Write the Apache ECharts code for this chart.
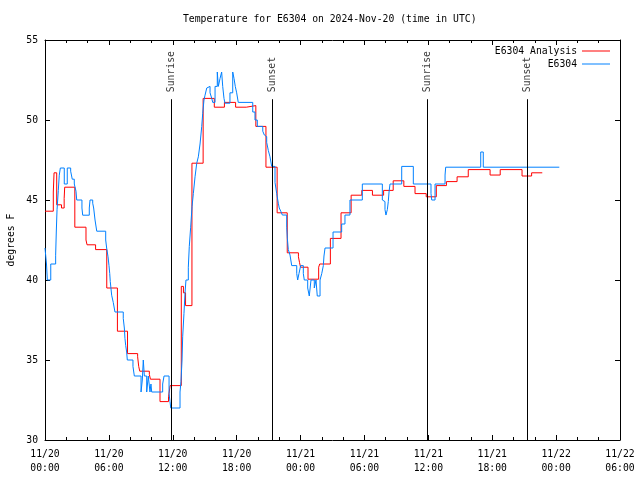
<!DOCTYPE html>
<html><head><meta charset="utf-8">
<script src="https://cdn.jsdelivr.net/npm/echarts@6/dist/echarts.min.js"></script>
<style>html,body{margin:0;padding:0;background:#fff}#c{width:640px;height:480px}</style>
</head><body><div id="c"></div>
<script>
const FONT = 'DejaVu Sans Mono';
const FS = 9.75;
const titleText = 'Temperature for E6304 on 2024-Nov-20 (time in UTC)';
const yAxisName = 'degrees F';
const xTickLabels = ['11/20\n00:00','11/20\n06:00','11/20\n12:00','11/20\n18:00','11/21\n00:00','11/21\n06:00','11/21\n12:00','11/21\n18:00','11/22\n00:00','11/22\n06:00'];
const seriesNames = ['E6304 Analysis', 'E6304'];

// hours since 11/20 00:00 UTC
const analysisTimes = [0,0.78,0.85,1.1,1.55,1.8,1.85,2.8,3.85,3.95,4.75,5.8,6.8,7.75,8.7,8.8,8.9,9.8,9.9,10.8,11.6,11.75,12.8,13.0,13.2,13.8,14.85,15.9,16.85,17.9,18.9,19.8,20.75,21.8,22.75,23.8,23.9,24.0,24.7,25.7,25.8,26.8,27.8,28.75,29.75,30.75,31.8,32.7,33.7,34.75,35.8,36.75,37.7,38.7,39.75,41.8,42.75,44.8,45.7,46.7];
const analysisTemps = [44.3,45.5,46.7,44.7,44.5,45.1,45.8,43.3,42.5,42.2,41.9,39.5,36.8,35.4,35.2,34.6,34.3,34.1,33.8,32.4,32.7,33.4,39.6,39.2,38.4,47.3,51.35,50.8,51.1,50.8,50.9,49.6,47.05,44.2,41.7,41.45,41.1,40.8,40.05,40.8,41.0,42.6,44.2,45.3,45.6,45.3,45.6,46.2,45.85,45.4,45.2,45.9,46.15,46.45,46.9,46.56,46.9,46.5,46.7,46.7];

const obsTimes = [0,0.14,0.22,0.54,1.00,1.06,1.13,1.25,1.34,1.44,1.81,2.09,2.41,2.56,2.75,2.91,2.98,3.47,3.54,4.16,4.23,4.48,4.57,4.70,4.86,5.70,5.79,5.92,6.01,6.08,6.13,6.26,6.41,6.57,7.35,7.45,7.51,7.58,7.67,7.73,8.26,8.39,9.02,9.14,9.23,9.33,9.55,9.70,9.86,9.95,10.02,11.05,11.18,11.65,11.74,11.81,12.68,12.77,12.87,12.93,13.05,13.15,13.24,13.46,13.55,13.68,13.81,13.93,14.09,14.25,14.40,14.56,14.72,14.81,14.93,15.03,15.19,15.34,15.50,15.66,15.75,15.97,16.18,16.28,16.44,16.59,16.69,16.81,16.90,17.37,17.63,17.75,17.87,18.00,18.15,19.51,19.72,19.94,20.45,20.60,20.73,20.82,20.97,21.13,21.29,21.60,21.76,21.91,22.00,22.14,22.29,22.70,22.76,22.85,23.01,23.17,23.64,23.73,23.85,24.01,24.26,24.35,24.67,24.82,24.98,25.29,25.45,25.57,25.83,25.99,26.14,26.20,26.30,27.05,27.86,28.17,28.64,29.80,31.68,31.77,31.93,32.02,32.15,32.24,32.31,32.40,33.50,34.59,36.25,36.32,36.63,37.57,37.63,40.92,41.16,48.30];
const obsTemps = [42.0,41.0,40.0,41.0,41.55,43.0,44.4,45.6,46.55,47.0,46.0,47.0,46.8,46.3,46.0,45.55,45.0,44.5,44.05,44.5,45.0,44.8,44.5,43.75,43.05,42.5,42.0,41.45,40.9,40.4,39.9,39.05,38.6,38.0,37.6,37.0,36.35,35.9,35.5,35.0,34.6,34.0,33.0,33.75,35.0,34.0,33.0,34.0,33.0,33.5,33.0,33.5,34.0,32.9,32.4,32.0,33.0,33.65,35.0,36.45,37.9,39.2,40.0,40.8,42.1,43.3,44.6,45.4,46.45,47.3,47.7,48.5,49.6,50.4,51.25,51.55,52.0,52.1,51.7,51.35,51.1,52.1,53.0,52.1,52.6,53.0,52.1,51.35,51.05,51.7,53.0,52.6,52.1,51.7,51.1,50.5,50.0,49.6,49.3,49.06,48.96,48.6,48.1,47.7,47.1,46.1,45.4,44.8,44.5,44.3,44.06,43.3,42.6,41.9,41.56,40.9,40.4,40.0,40.4,40.9,40.4,40.0,39.5,39.0,40.0,39.5,40.0,39.0,40.0,40.4,40.9,41.5,42.0,43.0,43.5,44.06,45.0,46.0,45.0,44.9,44.4,44.06,44.4,44.9,45.5,46.0,47.1,46.0,45.4,45.0,46.0,46.56,47.05,48.0,47.05,47.05];

const sunTimes = [11.9, 21.38, 35.9, 45.3];
const sunLabels = ['Sunrise', 'Sunset', 'Sunrise', 'Sunset'];
const sunLineTop = 51.3;
const yMin = 30, yMax = 55, yStep = 5;
const xMin = 0, xMax = 54, xStep = 6;

const analysisData = analysisTimes.map((t, i) => [t, analysisTemps[i]]);
const obsData = obsTimes.map((t, i) => [t, obsTemps[i]]);

const txt = {fontFamily: FONT, fontSize: FS, color: '#000'};
const axisCommon = {
  axisLine: {show: true, onZero: false, lineStyle: {color: '#000', width: 1}},
  axisTick: {show: true, inside: true, length: 5, lineStyle: {color: '#000', width: 1}},
  splitLine: {show: false}
};

const chart = echarts.init(document.getElementById('c'), null, {renderer: 'canvas'});
chart.setOption({
  animation: false,
  backgroundColor: '#fff',
  title: {text: titleText, left: 183, top: 14, padding: 0, textStyle: Object.assign({fontWeight: 'normal'}, txt)},
  legend: [
    {data: [seriesNames[0]], right: 30, top: 46, padding: 0, align: 'right', icon: 'rect', itemWidth: 28, itemHeight: 1, textStyle: txt},
    {data: [seriesNames[1]], right: 30, top: 59, padding: 0, align: 'right', icon: 'rect', itemWidth: 28, itemHeight: 1, textStyle: txt}
  ],
  grid: {left: 45, right: 20, top: 40, bottom: 40, containLabel: false, outerBoundsMode: 'none'},
  xAxis: [
    Object.assign({}, axisCommon, {
      type: 'value', min: xMin, max: xMax, interval: xStep, position: 'bottom',
      minorTick: {show: true, splitNumber: 3, length: 3, lineStyle: {color: '#000'}},
      axisLabel: Object.assign({margin: 7, lineHeight: 14, formatter: v => xTickLabels[Math.round((v - xMin) / xStep)]}, txt)
    }),
    Object.assign({}, axisCommon, {
      type: 'value', min: xMin, max: xMax, interval: xStep, position: 'top',
      minorTick: {show: true, splitNumber: 3, length: 3, lineStyle: {color: '#000'}},
      axisLabel: {show: false}
    })
  ],
  yAxis: [
    Object.assign({}, axisCommon, {
      type: 'value', min: yMin, max: yMax, interval: yStep, position: 'left',
      name: yAxisName, nameLocation: 'middle', nameGap: 29, nameMoveOverlap: false, nameTextStyle: txt,
      axisLabel: Object.assign({margin: 7}, txt)
    }),
    Object.assign({}, axisCommon, {
      type: 'value', min: yMin, max: yMax, interval: yStep, position: 'right',
      axisLabel: {show: false}
    })
  ],
  series: [
    {
      name: seriesNames[0], type: 'line', step: 'end', showSymbol: false, data: analysisData,
      lineStyle: {color: '#ff0000', width: 1}, itemStyle: {color: '#ff0000'}, z: 3
    },
    {
      name: seriesNames[1], type: 'line', step: 'end', showSymbol: false, data: obsData,
      lineStyle: {color: '#0080ff', width: 1}, itemStyle: {color: '#0080ff'}, z: 4
    },
    {
      name: 'sun', type: 'scatter', symbolSize: 0, silent: true, z: 5,
      data: sunTimes.map((t, i) => ({value: [t, sunLineTop], name: sunLabels[i]})),
      label: Object.assign({show: true, position: 'top', distance: 7, rotate: 90, align: 'left', verticalAlign: 'middle', formatter: p => p.name}, txt),
      markLine: {
        silent: true, symbol: 'none', label: {show: false},
        lineStyle: {color: '#000', type: 'solid', width: 1},
        data: sunTimes.map(t => [{xAxis: t, yAxis: yMin}, {xAxis: t, yAxis: sunLineTop}])
      }
    }
  ]
});
</script>
</body></html>
